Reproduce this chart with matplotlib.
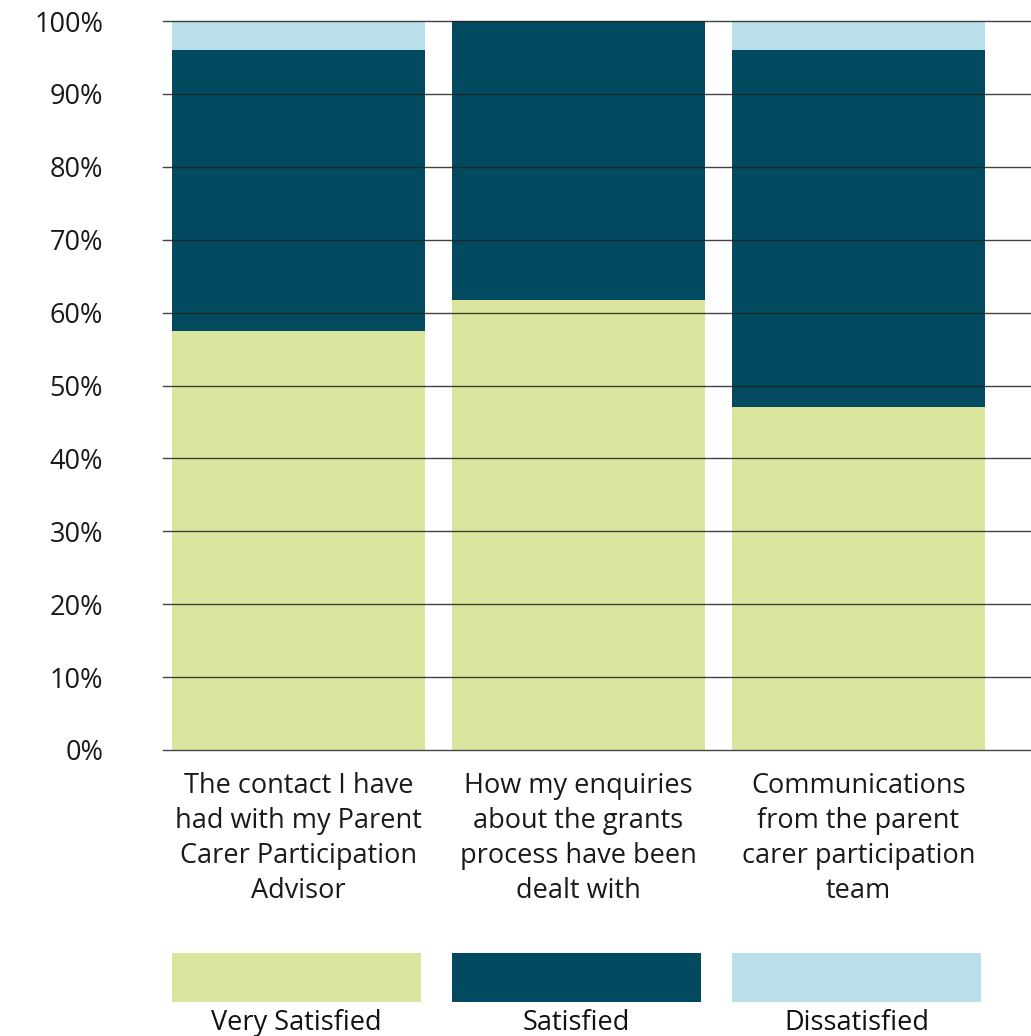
import matplotlib.pyplot as plt
import numpy as np

# datos
categorias = ["The contact I have\nhad with my Parent\nCarer Participation\nAdvisor",
              "How my enquiries\nabout the grants\nprocess have been\ndealt with",
              "Communications\nfrom the parent\ncarer participation\nteam"]
muy_satisfecho = [57.5, 61.7, 47.0]
satisfecho = [38.5, 38.3, 49.0]
insatisfecho = [4.0, 0.0, 4.0]
series = ["Very Satisfied", "Satisfied", "Dissatisfied"]
colores = ["#DBE49C", "#024A60", "#B9E0EA"]

plt.rcParams['font.family'] = ['Open Sans', 'DejaVu Sans']

W, H = 1031, 1036
fig = plt.figure(figsize=(W / 100, H / 100), dpi=100)
ax = fig.add_axes([163 / W, (H - 750) / H, (W - 163) / W, (750 - 21) / H])

x = np.arange(len(categorias))
ancho = 0.904
ax.bar(x, muy_satisfecho, ancho, color=colores[0], zorder=1)
ax.bar(x, satisfecho, ancho, bottom=muy_satisfecho, color=colores[1], zorder=1)
abajo = np.array(muy_satisfecho) + np.array(satisfecho)
ax.bar(x, insatisfecho, ancho, bottom=abajo, color=colores[2], zorder=1)

ax.set_xlim(-0.484, 2.616)
ax.set_ylim(0, 100)
ax.set_yticks(range(0, 101, 10))
ax.set_yticklabels([f"{v}%" for v in range(0, 101, 10)], fontsize=19.5, color="#1a1a1a")
for v in range(0, 101, 10):
    ax.axhline(v, color="#222222", lw=1.0, zorder=3, alpha=0.85, clip_on=False)
ax.tick_params(axis="y", length=0, pad=43)
ax.set_xticks(x)
ax.set_xticklabels(categorias, fontsize=19.5, linespacing=1.33, color="#1a1a1a")
ax.tick_params(axis="x", length=0, pad=16)
for s in ax.spines.values():
    s.set_visible(False)

# leyenda (coordenadas en pixeles desde arriba)
ax2 = fig.add_axes([163 / W, 0, (W - 163) / W, 1])
ax2.set_xlim(-0.484, 2.616)
ax2.set_ylim(H, 0)
ax2.bar(x - 0.007, [49, 49, 49], 0.889, bottom=953, color=colores)
for i, nombre in enumerate(series):
    ax2.text(x[i] - 0.007, 1009, nombre, ha="center", va="top", fontsize=19.5, color="#111111")
ax2.axis("off")

plt.savefig("out.png", dpi=100)
